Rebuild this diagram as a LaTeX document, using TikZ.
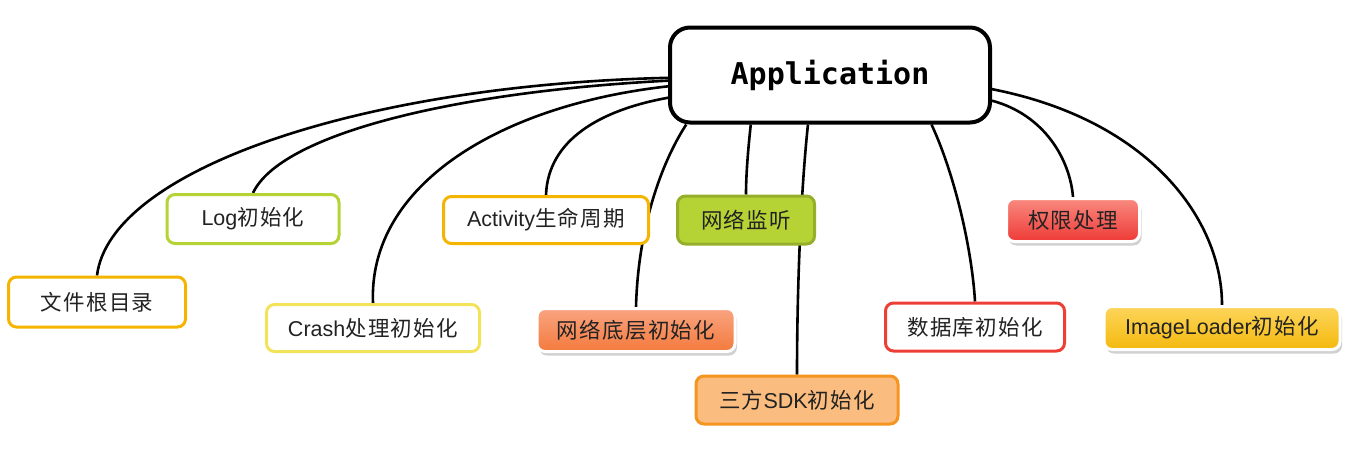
\documentclass[tikz,border=0pt]{standalone}
\usepackage{fontspec}
\setmainfont{Liberation Sans}
\newfontfamily\cjk{Noto Sans CJK SC}[LetterSpace=6]
\newfontfamily\appmono{DejaVu Sans Mono}
\usetikzlibrary{shadows}
\pgfdeclarelayer{background}
\pgfsetlayers{background,main}
\definecolor{cOrange}{HTML}{F4B400}
\definecolor{cGreen}{HTML}{B5D334}
\definecolor{cGreenD}{HTML}{96AF2A}
\definecolor{cYellow}{HTML}{F3E35A}
\definecolor{cNetTop}{HTML}{F9A581}
\definecolor{cNetBot}{HTML}{F47A3D}
\definecolor{cSdkFill}{HTML}{FBBD7F}
\definecolor{cSdkLine}{HTML}{F5951F}
\definecolor{cRedTop}{HTML}{F98A80}
\definecolor{cRedBot}{HTML}{EE3A36}
\definecolor{cRed}{HTML}{EE3F36}
\definecolor{cImgTop}{HTML}{FDD55A}
\definecolor{cImgBot}{HTML}{F4B90D}
\definecolor{cText}{HTML}{222222}
\tikzset{
  leaf/.style={rounded corners=8pt, line width=3pt, fill=white, inner sep=0pt,
    align=center, text=cText, font=\fontsize{21.5}{24}\selectfont},
  plain/.style={leaf, draw=#1},
  shaded/.style 2 args={leaf, draw=white, top color=#1, bottom color=#2,
    drop shadow={shadow xshift=2pt, shadow yshift=-4pt, fill=black!30, opacity=0.6}},
  rootbox/.style={rounded corners=20pt, line width=4pt, draw=black, fill=white,
    minimum width=320pt, minimum height=95pt, inner sep=0pt,
    font=\appmono\bfseries\fontsize{30}{34}\selectfont},
  conn/.style={line width=2.6pt, black},
}
\begin{document}
\begin{tikzpicture}[x=1pt,y=-1pt]
\useasboundingbox (0,0) rectangle (1355,450);
% nodes
\node[rootbox] (app) at (830,75) {Application};

\node[plain=cOrange, minimum width=177pt, minimum height=50pt] (f1) at (97,302) {\cjk 文件根目录};
\node[plain=cGreen, minimum width=172pt, minimum height=49pt] (f2) at (253,219) {Log\cjk 初始化};
\node[plain=cYellow, minimum width=213pt, minimum height=47pt] (f3) at (373,328) {Crash\cjk 处理初始化};
\node[plain=cOrange, minimum width=205pt, minimum height=47pt] (f4) at (546,220) {Activity\cjk 生命周期};
\node[shaded={cNetTop}{cNetBot}, minimum width=198pt, minimum height=43pt] (f5) at (636,330) {\cjk 网络底层初始化};
\node[leaf, draw=cGreenD, fill=cGreen, minimum width=137pt, minimum height=48pt] (f6) at (746,220) {\cjk 网络监听};
\node[leaf, draw=cSdkLine, fill=cSdkFill, minimum width=202pt, minimum height=48pt] (f7) at (797,400) {\cjk 三方\normalfont SDK\cjk 初始化};
\node[plain=cRed, minimum width=179pt, minimum height=48pt] (f8) at (975,327) {\cjk 数据库初始化};
\node[shaded={cRedTop}{cRedBot}, minimum width=133pt, minimum height=43pt] (f9) at (1073,220) {\cjk 权限处理};
\node[shaded={cImgTop}{cImgBot}, minimum width=236pt, minimum height=43pt] (f10) at (1222,328) {ImageLoader\cjk 初始化};

% connectors (behind the boxes)
\begin{pgfonlayer}{background}
\draw[conn] (app.181) .. controls (360,85) and (110,170) .. (f1.north);
\draw[conn] (app.182.5) .. controls (450,92) and (280,135) .. (f2.north);
\draw[conn] (app.184.7) .. controls (500,105) and (368,185) .. (f3.north);
\draw[conn] (app.188.4) .. controls (600,110) and (548,140) .. (f4.north);
\draw[conn] (app.199.9) .. controls (660,165) and (638,230) .. (f5.north);
\draw[conn] (app.212.8) .. controls (748,150) and (746,175) .. (f6.north);
\draw[conn] (app.246.9) .. controls (800,200) and (797,300) .. (f7.north);
\draw[conn] (app.334.8) .. controls (955,175) and (972,250) .. (f8.north);
\draw[conn] (app.351.1) .. controls (1045,115) and (1070,160) .. (f9.north);
\draw[conn] (app.355.4) .. controls (1150,120) and (1222,220) .. (f10.north);
\end{pgfonlayer}
\end{tikzpicture}
\end{document}
